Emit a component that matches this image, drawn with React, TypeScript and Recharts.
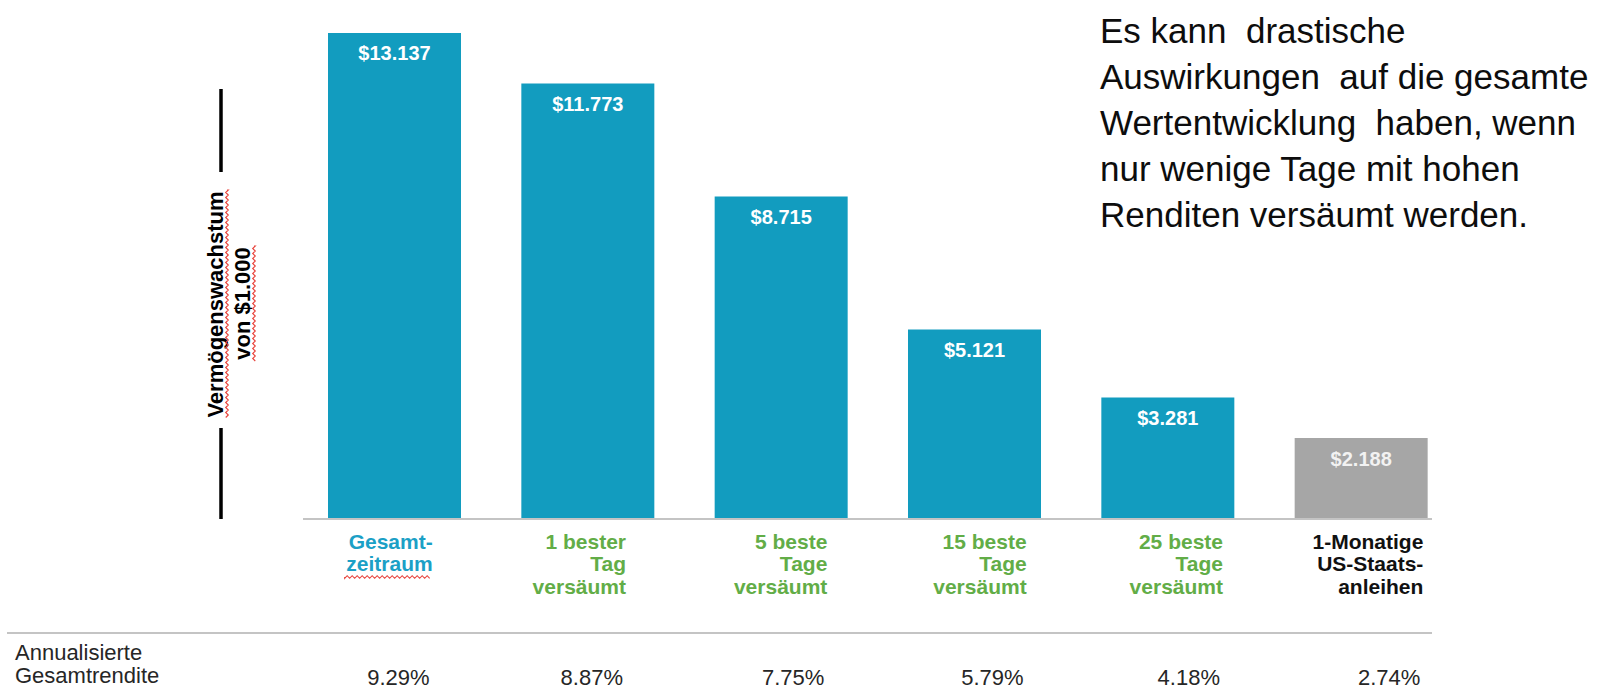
import { BarChart, Bar, XAxis, YAxis, Cell, LabelList } from 'recharts';

const categories = [
  'Gesamt-\nzeitraum',
  '1 bester\nTag\nversäumt',
  '5 beste\nTage\nversäumt',
  '15 beste\nTage\nversäumt',
  '25 beste\nTage\nversäumt',
  '1-Monatige\nUS-Staats-\nanleihen',
];
const endValues = [13137, 11773, 8715, 5121, 3281, 2188];
const annualReturns = ['9.29%', '8.87%', '7.75%', '5.79%', '4.18%', '2.74%'];
const rowTitle = ['Annualisierte', 'Gesamtrendite'];
const axisTitle = ['Vermögenswachstum', 'von $1.000'];
const noteLines = [
  'Es kann  drastische',
  'Auswirkungen  auf die gesamte',
  'Wertentwicklung  haben, wenn',
  'nur wenige Tage mit hohen',
  'Renditen versäumt werden.',
];

// styling per category
const barColors = ['#129cbf', '#129cbf', '#129cbf', '#129cbf', '#129cbf', '#a6a6a6'];
const labelColors = ['#1ba0c6', '#62ad47', '#62ad47', '#62ad47', '#62ad47', '#111111'];
const labelShift = [38, 38, 46, 52, 55, 62];

const FONT = '"Liberation Sans", Arial, sans-serif';

const data = categories.map((name, i) => ({ name, value: endValues[i] }));

const fmtDollar = (v: number) => '$' + String(v).replace(/\B(?=(\d{3})+(?!\d))/g, '.');

// red spell-check squiggle
const squiggle = (x1: number, y1: number, len: number, vertical = false) => {
  let d = `M${x1},${y1}`;
  for (let s = 0, k = 0; s <= len; s += 2.5, k++) {
    const off = k % 2 === 0 ? 1.3 : -1.3;
    d += vertical ? ` L${x1 + off},${y1 + s}` : ` L${x1 + s},${y1 + off}`;
  }
  return <path d={d} fill="none" stroke="#e8433c" strokeWidth={1.1} />;
};

const CategoryTick = (props: any) => {
  const { x, y, payload } = props;
  const i = payload.index;
  const lines = categories[i].split('\n');
  const right = x + labelShift[i];
  return (
    <g>
      <text
        x={right}
        y={y + 30}
        textAnchor="end"
        fill={labelColors[i]}
        fontSize={21}
        fontWeight="bold"
        fontFamily={FONT}
      >
        {lines.map((l, k) => (
          <tspan key={k} x={right} dy={k === 0 ? 0 : 22.3}>
            {l}
          </tspan>
        ))}
      </text>
      {i === 0 && squiggle(right - 88, y + 58, 86)}
      <text x={right - 3} y={y + 166} textAnchor="end" fill="#262626" fontSize={22} fontFamily={FONT}>
        {annualReturns[i]}
      </text>
    </g>
  );
};

const renderValue = (props: any) => {
  const { x, y, width, value, index } = props;
  return (
    <text
      x={x + width / 2}
      y={y + 27.5}
      textAnchor="middle"
      fill={index === 5 ? '#f2f2f2' : '#ffffff'}
      fontSize={20}
      fontWeight="bold"
      fontFamily={FONT}
    >
      {fmtDollar(value)}
    </text>
  );
};

export default function App() {
  return (
    <div style={{ position: 'absolute', left: 0, top: 0, width: 1605, height: 690, background: '#fff' }}>
      <BarChart width={1605} height={690} data={data} margin={{ top: 1, right: 173, bottom: 0, left: 303 }}>
        <XAxis
          dataKey="name"
          height={171}
          interval={0}
          tickLine={false}
          tickSize={0}
          tickMargin={0}
          axisLine={{ stroke: '#c4c4c4', strokeWidth: 2 }}
          padding={{ left: -5, right: -26 }}
          tick={<CategoryTick />}
        />
        <YAxis hide domain={[0, 14000]} />
        <Bar dataKey="value" barSize={133} isAnimationActive={false}>
          {data.map((d, i) => (
            <Cell key={d.name} fill={barColors[i]} />
          ))}
          <LabelList dataKey="value" content={renderValue} />
        </Bar>
      </BarChart>

      <svg
        width={1605}
        height={690}
        style={{ position: 'absolute', left: 0, top: 0, pointerEvents: 'none' }}
        fontFamily={FONT}
      >
        {/* y-axis title with bracket line */}
        <line x1={221} y1={89} x2={221} y2={172} stroke="#000" strokeWidth={3.5} />
        <line x1={221} y1={428} x2={221} y2={519} stroke="#000" strokeWidth={3.5} />
        <text
          x={222.5}
          y={304.5}
          transform="rotate(-90, 222.5, 304.5)"
          textAnchor="middle"
          fontSize={22}
          fontWeight="bold"
          fill="#000"
        >
          {axisTitle[0]}
        </text>
        <text
          x={250}
          y={303.5}
          transform="rotate(-90, 250, 303.5)"
          textAnchor="middle"
          fontSize={22}
          fontWeight="bold"
          fill="#000"
        >
          {axisTitle[1]}
        </text>
        {squiggle(227, 190, 228, true)}
        {squiggle(254, 246, 115, true)}

        {/* returns row */}
        <line x1={7} y1={633} x2={1432} y2={633} stroke="#c4c4c4" strokeWidth={2} />
        {rowTitle.map((t, i) => (
          <text key={t} x={15} y={660 + i * 23} fontSize={22} fill="#262626">
            {t}
          </text>
        ))}

        {/* side note */}
        {noteLines.map((t, i) => (
          <text key={t} x={1100} y={43 + i * 46} fontSize={35} fill="#0d0d0d" style={{ whiteSpace: 'pre' }}>
            {t}
          </text>
        ))}
      </svg>
    </div>
  );
}
